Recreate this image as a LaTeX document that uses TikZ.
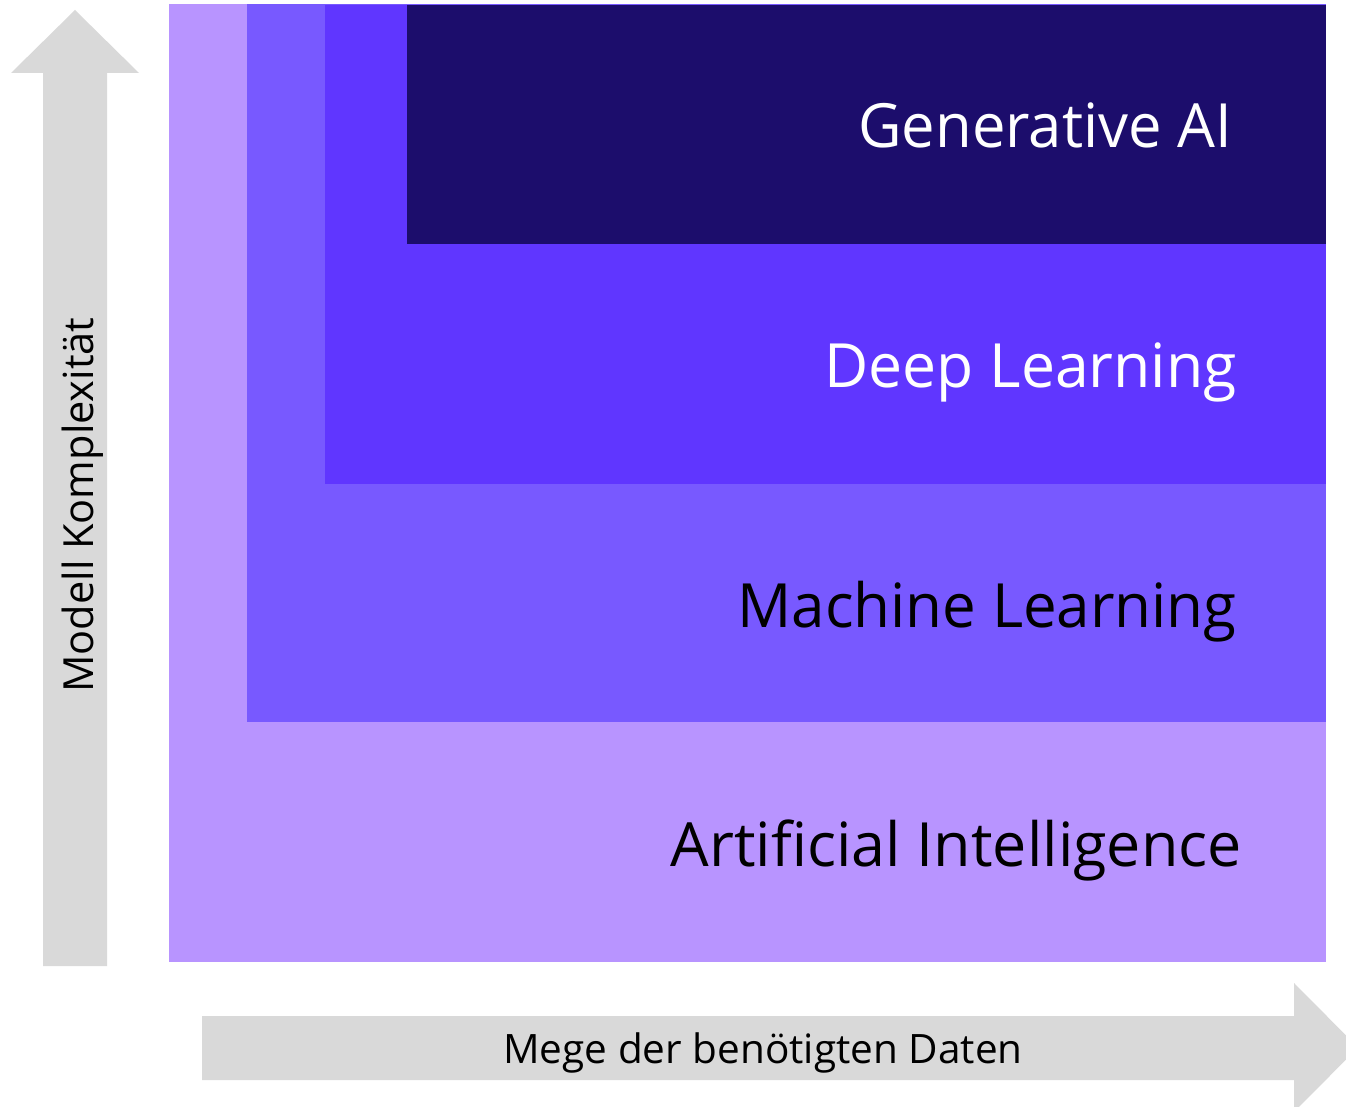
\documentclass[tikz,border=0pt]{standalone}
\usepackage{fontspec}
\setmainfont{Open Sans}
\definecolor{aiC}{HTML}{B894FF}
\definecolor{mlC}{HTML}{7859FF}
\definecolor{dlC}{HTML}{6036FF}
\definecolor{genC}{HTML}{1C0D6C}
\definecolor{arrC}{HTML}{D9D9D9}
\tikzset{
  band/.style={draw=none},
  biglabel/.style={anchor=base east, inner sep=0pt, font=\fontsize{61}{68}\selectfont},
  axislabel/.style={inner sep=0pt, anchor=base, text=black},
  arrowshape/.style={fill=arrC, draw=none}
}
\begin{document}
\begin{tikzpicture}[x=1pt,y=-1pt]
\useasboundingbox (0,0) rectangle (1346,1107);
\begin{scope}
\clip (0,0) rectangle (1346,1107);
% bands
\fill[aiC, band] (169,4) rectangle (1326,962);
\fill[mlC, band] (247,4) rectangle (1326,722);
\fill[dlC, band] (325,5) rectangle (1326,484);
\fill[genC, band] (407,5) rectangle (1326,244);
% up arrow
\fill[arrowshape] (43,966) -- (43,73) -- (11,73) -- (75,10) -- (139,73) -- (107,73) -- (107,966) -- cycle;
% right arrow
\fill[arrowshape] (202,1016) -- (1294,1016) -- (1294,983) -- (1358,1047.5) -- (1294,1112) -- (1294,1080) -- (202,1080) -- cycle;
\end{scope}
% labels
\node[biglabel, text=white, xscale=0.98] (gen) at (1232,148) {Generative AI};
\node[biglabel, text=white, xscale=0.995] (dl) at (1237,387) {Deep Learning};
\node[biglabel, text=black, xscale=0.985] (ml) at (1237,627) {Machine Learning};
\node[biglabel, text=black] (ai) at (1242,866) {Artificial Intelligence};
\node[axislabel, rotate=90, font=\fontsize{41.5}{48}\selectfont] (yl) at (93,505) {Modell Komplexität};
\node[axislabel, font=\fontsize{40.5}{48}\selectfont] (xl) at (763,1063) {Mege der benötigten Daten};
\end{tikzpicture}
\end{document}
